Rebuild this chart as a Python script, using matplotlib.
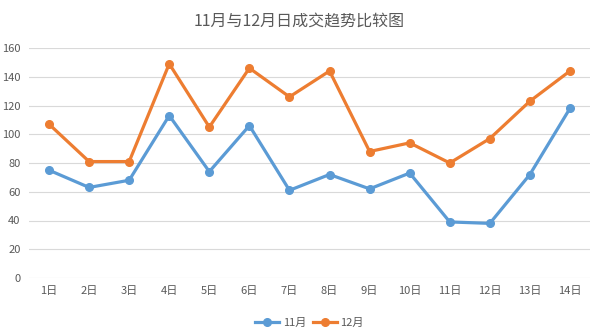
import matplotlib.pyplot as plt

plt.rcParams['font.family'] = ['Noto Sans CJK SC', 'DejaVu Sans']

days = ['1日', '2日', '3日', '4日', '5日', '6日', '7日',
        '8日', '9日', '10日', '11日', '12日', '13日', '14日']
nov = [75, 63, 68, 113, 74, 106, 61, 72, 62, 73, 39, 38, 72, 118]
dec = [107, 81, 81, 149, 105, 146, 126, 144, 88, 94, 80, 97, 123, 144]

blue = '#5B9BD5'
orange = '#ED7D31'
text_c = '#595959'

fig = plt.figure(figsize=(5.98, 3.33), dpi=100)
ax = fig.add_axes([29/598, 55/333, 561/598, 230/333])

x = range(len(days))
ax.plot(x, nov, color=blue, lw=2.3, marker='o', ms=5.5, label='11月')
ax.plot(x, dec, color=orange, lw=2.3, marker='o', ms=5.5, label='12月')

ax.set_xlim(-0.5, len(days) - 0.5)
ax.set_ylim(0, 160)
ax.set_yticks(range(0, 161, 20))
ax.set_xticks(list(x))
ax.set_xticklabels(days)
ax.grid(axis='y', color='#D9D9D9', lw=0.8)
ax.set_axisbelow(True)
for s in ax.spines.values():
    s.set_visible(False)
ax.tick_params(length=0, colors=text_c, labelsize=8)
ax.tick_params(axis='y', pad=6)
ax.tick_params(axis='x', pad=6)

fig.text(0.5, 0.935, '11月与12月日成交趋势比较图', ha='center', va='center',
         fontsize=11.5, color=text_c)

ax.legend(loc='upper center', bbox_to_anchor=(0.5, -0.13), ncol=2, frameon=False,
          fontsize=8, labelcolor=text_c, handlelength=2.2, columnspacing=0.6,
          handletextpad=0.3)

fig.savefig('out.png', dpi=100)
